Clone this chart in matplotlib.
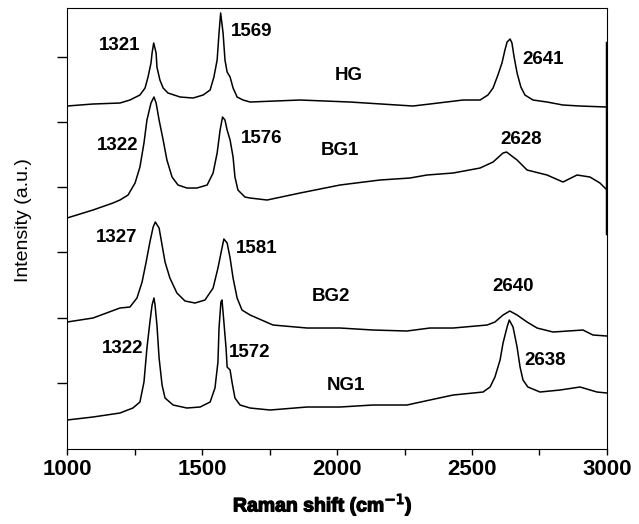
import matplotlib
matplotlib.use('Agg')
import matplotlib.pyplot as plt
import matplotlib.patheffects as pe
from matplotlib.ticker import MultipleLocator

plt.rcParams['font.family'] = ['Liberation Sans', 'DejaVu Sans']

# Raman spectra (wavenumber cm-1, intensity a.u. incl. stacking offsets)
hg_x = [1000, 1096, 1196, 1233, 1270, 1289, 1300, 1311, 1315, 1321, 1330, 1333, 1344, 1356, 1374,
        1419, 1467, 1504, 1530, 1544, 1556, 1563, 1569, 1578, 1585, 1593, 1604, 1615, 1630, 1652,
        1678, 1863, 2048, 2281, 2344, 2467, 2530, 2559, 2578, 2596, 2611, 2622, 2630, 2641, 2648,
        2656, 2667, 2681, 2696, 2726, 2778, 2837, 2900, 3000]
hg_y = [343, 345, 346, 349, 354, 361, 372, 386, 396, 406, 396, 382, 369, 361, 356,
        352, 351, 354, 359, 372, 389, 416, 436, 416, 389, 377, 372, 361, 352, 349,
        347, 349, 347, 343, 345, 349, 349, 354, 361, 374, 386, 399, 407, 410, 406,
        392, 376, 362, 354, 349, 347, 344, 343, 342]

bg1_x = [1000, 1096, 1170, 1196, 1226, 1252, 1270, 1285, 1296, 1311, 1322, 1330, 1341, 1356, 1370,
         1389, 1411, 1444, 1481, 1519, 1541, 1556, 1567, 1576, 1585, 1593, 1604, 1615, 1622, 1633,
         1659, 1678, 1741, 1863, 2011, 2159, 2270, 2333, 2430, 2530, 2578, 2615, 2628, 2667, 2704,
         2778, 2837, 2889, 2937, 2974, 3000]
bg1_y = [231, 239, 246, 249, 254, 266, 282, 306, 329, 346, 352, 346, 329, 309, 289,
         272, 264, 261, 261, 264, 276, 296, 319, 332, 329, 319, 309, 292, 272, 259,
         252, 251, 249, 256, 264, 269, 271, 274, 276, 281, 287, 296, 297, 289, 279,
         274, 267, 274, 272, 266, 259]

bg2_x = [1000, 1096, 1196, 1233, 1259, 1278, 1293, 1307, 1319, 1327, 1341, 1352, 1363, 1381, 1407,
         1437, 1474, 1511, 1541, 1559, 1574, 1581, 1593, 1604, 1615, 1630, 1648, 1678, 1763, 1889,
         2011, 2133, 2259, 2344, 2430, 2556, 2585, 2615, 2640, 2667, 2704, 2741, 2800, 2911, 2948,
         3000]
bg2_y = [127, 131, 141, 142, 151, 167, 187, 207, 222, 227, 221, 204, 187, 171, 156,
         148, 146, 149, 161, 181, 201, 210, 206, 191, 171, 151, 139, 134, 124, 121,
         121, 119, 118, 121, 121, 124, 127, 134, 138, 134, 127, 121, 117, 119, 114,
         113]

ng1_x = [1000, 1096, 1196, 1244, 1270, 1285, 1296, 1307, 1315, 1322, 1326, 1333, 1341, 1352, 1363,
         1393, 1444, 1493, 1530, 1548, 1559, 1563, 1570, 1574, 1581, 1589, 1593, 1604, 1611, 1622,
         1641, 1678, 1752, 1889, 2011, 2133, 2259, 2344, 2430, 2541, 2567, 2585, 2604, 2615, 2630,
         2638, 2652, 2667, 2678, 2689, 2707, 2752, 2826, 2900, 2963, 3000]
ng1_y = [29, 32, 36, 41, 47, 67, 101, 127, 144, 151, 144, 124, 91, 64, 51,
         44, 41, 42, 47, 61, 87, 121, 147, 149, 127, 101, 82, 79, 67, 51,
         44, 41, 39, 42, 42, 44, 44, 49, 54, 57, 62, 72, 89, 106, 122,
         129, 122, 102, 82, 69, 62, 57, 59, 62, 57, 56]

# annotations: text, x, y
peak_labels = ['1321', '1569', '1322', '1576', '1327', '1581', '1322', '1572',
               '2641', '2628', '2640', '2638']
peak_lx = [1193, 1685, 1189, 1719, 1185, 1704, 1207, 1678, 2763, 2681, 2652, 2770]
peak_ly = [404, 418, 304, 311, 212, 201, 101, 97, 390, 310, 163, 89]
names = ['HG', 'BG1', 'BG2', 'NG1']
name_x = [2044, 2011, 1978, 2033]
name_y = [374, 299, 153, 64]

fig = plt.figure(figsize=(6.39, 5.24), dpi=100)
ax = fig.add_axes([0.1049, 0.1431, 0.845, 0.8416])

for xs, ys in [(hg_x, hg_y), (bg1_x, bg1_y), (bg2_x, bg2_y), (ng1_x, ng1_y)]:
    ax.plot(xs, ys, color='black', lw=1.1)

for t, x, y in zip(peak_labels, peak_lx, peak_ly):
    ax.text(x, y, t, fontsize=13.5, fontweight='bold', ha='center', va='center')
for t, x, y in zip(names, name_x, name_y):
    ax.text(x, y, t, fontsize=13.5, fontweight='bold', ha='center', va='center')

# odd thick segment on the right frame
ax.axvline(3000, ymin=0.49, ymax=0.92, color='black', lw=2.5)

ax.set_xlim(1000, 3000)
ax.set_ylim(0, 441)
ax.xaxis.set_major_locator(MultipleLocator(500))
ax.xaxis.set_minor_locator(MultipleLocator(250))
ax.set_yticks([66, 131, 197, 262, 327, 392])
ax.set_yticklabels([])
ax.tick_params(axis='x', which='both', direction='out', length=4, width=1)
ax.tick_params(axis='x', labelsize=16)
ax.tick_params(axis='y', direction='out', length=7, width=1)
for lab in ax.get_xticklabels():
    lab.set_fontweight('bold')

xl = ax.set_xlabel('Raman shift (cm$^{-1}$)', fontsize=14, fontweight='bold')
xl.set_path_effects([pe.withStroke(linewidth=0.9, foreground='black')])
ax.xaxis.set_label_coords(0.474, -0.097)
ax.set_ylabel('Intensity (a.u.)', fontsize=14)
ax.yaxis.set_label_coords(-0.065, 0.52)

plt.savefig('out.png', dpi=100)
